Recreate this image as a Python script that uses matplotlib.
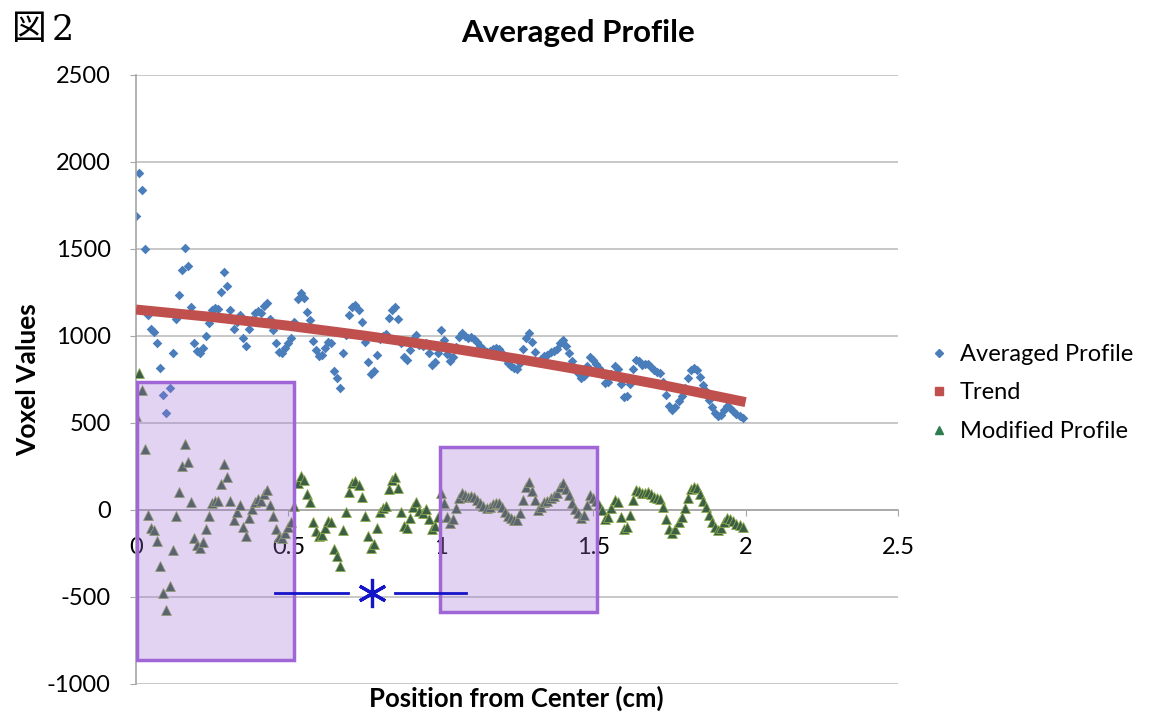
import numpy as np
import matplotlib.pyplot as plt
from matplotlib.lines import Line2D
from matplotlib.patches import Rectangle

# sampling step along the profile (cm)
step = 0.01

averaged_profile = [
    1690, 1935, 1840, 1500, 1120, 1040, 1025, 960, 816, 660,
    560, 700, 900, 1098, 1235, 1380, 1505, 1400, 1167, 960,
    915, 900, 930, 1000, 1075, 1150, 1160, 1155, 1250, 1368,
    1290, 1150, 1040, 1080, 1120, 990, 940, 1040, 1090, 1130,
    1145, 1130, 1170, 1190, 1100, 1034, 960, 910, 900, 930,
    960, 990, 1080, 1210, 1245, 1220, 1140, 1090, 970, 920,
    885, 890, 930, 966, 960, 800, 760, 700, 902, 1005,
    1120, 1165, 1178, 1150, 1080, 966, 850, 780, 800, 890,
    980, 1000, 1010, 1103, 1150, 1167, 1100, 960, 880, 862,
    920, 980, 1005, 950, 940, 960, 900, 835, 850, 902,
    1034, 976, 894, 856, 878, 936, 993, 1020, 1002, 990,
    992, 984, 966, 944, 926, 908, 915, 927, 930, 927,
    904, 871, 843, 830, 817, 812, 846, 923, 990, 1017,
    964, 906, 848, 865, 887, 889, 906, 913, 925, 957,
    979, 941, 903, 854, 816, 788, 760, 772, 829, 881,
    863, 840, 817, 783, 730, 737, 783, 825, 812, 724,
    650, 657, 724, 810, 862, 854, 835, 837, 839, 820,
    802, 794, 785, 737, 663, 600, 576, 593, 629, 656,
    702, 759, 805, 817, 803, 765, 721, 683, 634, 591,
    557, 538, 545, 576, 597, 589, 570, 551, 543, 529,
]

modified_profile = [
    538, 785, 691, 353, -26, -104, -117, -181, -323, -477,
    -575, -434, -232, -33, 106, 253, 380, 277, 46, -160,
    -203, -216, -184, -112, -35, 41, 53, 50, 147, 267,
    191, 53, -55, -13, 29, -100, -148, -46, 6, 48,
    65, 52, 94, 116, 29, -35, -107, -155, -163, -131,
    -99, -67, 25, 158, 195, 172, 94, 46, -71, -119,
    -152, -145, -102, -64, -68, -226, -263, -321, -117, -11,
    106, 153, 169, 143, 75, -36, -150, -217, -195, -102,
    -10, 12, 25, 120, 170, 189, 125, -13, -90, -106,
    -45, 17, 45, -7, -15, 8, -50, -112, -94, -40,
    95, 40, -40, -75, -50, 10, 70, 100, 85, 75,
    80, 75, 60, 40, 25, 10, 20, 35, 40, 40,
    20, -10, -35, -45, -55, -57, -20, 60, 130, 160,
    110, 55, 0, 20, 45, 50, 70, 80, 95, 130,
    155, 120, 85, 40, 5, -20, -45, -30, 30, 85,
    70, 50, 30, 0, -50, -40, 10, 55, 45, -40,
    -110, -100, -30, 60, 115, 110, 95, 100, 105, 90,
    75, 70, 65, 20, -50, -110, -130, -110, -70, -40,
    10, 70, 120, 135, 125, 90, 50, 15, -30, -70,
    -100, -115, -105, -70, -45, -50, -65, -80, -85, -95,
]

trend_x = [0, 0.25, 0.5, 0.75, 1.0, 1.25, 1.5, 1.75, 2.0]
trend_y = [1152, 1109, 1059, 1002, 939, 869, 793, 710, 620]

position = np.arange(len(averaged_profile)) * step

blue = '#4A7EBB'
red = '#C0504D'
green_face = '#3B5E46'
green_edge = '#8DAA4A'

plt.rcParams['font.family'] = ['Lato', 'DejaVu Sans']
plt.rcParams['axes.unicode_minus'] = False

fig = plt.figure(figsize=(11.55, 7.14), dpi=100)
ax = fig.add_axes([0.11775, 0.04202, 0.65974, 0.85294])

ax.scatter(position, averaged_profile, marker='D', s=24, color=blue,
           linewidths=0, zorder=2)
ax.plot(trend_x, trend_y, color=red, lw=7.2, solid_capstyle='butt', zorder=3)
ax.scatter(position, modified_profile, marker='^', s=50, facecolor=green_face,
           edgecolor=green_edge, linewidths=0.6, zorder=4)

# highlighted regions
box_kw = dict(facecolor=(0.63, 0.44, 0.85, 0.3), edgecolor='#A066D8', lw=2.5, zorder=5)
ax.add_patch(Rectangle((0.003, -862), 0.515, 1598, **box_kw))
ax.add_patch(Rectangle((0.997, -586), 0.515, 948, **box_kw))

# significance marker between the two regions
ann = '#1414C8'
ax.plot([0.456, 0.696], [-477, -477], color=ann, lw=2, zorder=6)
ax.plot([0.850, 1.083], [-477, -477], color=ann, lw=2, zorder=6)
ax.plot([0.774], [-477], marker=(6, 2, 0), ms=21, mew=2.3, color=ann, zorder=6)

ax.set_xlim(0, 2.5)
ax.set_ylim(-1000, 2500)
ax.set_xticks([0, 0.5, 1, 1.5, 2, 2.5])
ax.set_xticklabels(['0', '0.5', '1', '1.5', '2', '2.5'])
ax.set_yticks(range(-1000, 2501, 500))

ax.spines['top'].set_visible(False)
ax.spines['right'].set_visible(False)
ax.spines['bottom'].set_position(('data', 0))
for s in ('bottom', 'left'):
    ax.spines[s].set_color('#A6A6A6')
    ax.spines[s].set_linewidth(1.2)

ax.yaxis.grid(True, color='#BFBFBF', lw=1.2)
ax.set_axisbelow(True)
ax.tick_params(axis='x', length=4.3, color='#A6A6A6', pad=15, labelsize=17)
ax.tick_params(axis='y', length=4.3, color='#A6A6A6', pad=14, labelsize=17)

fig.text(0.5004, 0.9538, 'Averaged Profile', ha='center', va='center',
         fontsize=22.5, fontweight='bold')
fig.text(0.0242, 0.4678, 'Voxel Values', ha='center', va='center',
         rotation=90, fontsize=19, fontweight='bold')
fig.text(0.4468, 0.004, 'Position from Center (cm)', ha='center', va='bottom',
         fontsize=18.5, fontweight='bold')

fig.text(0.010, 0.958, '図', ha='left', va='center', fontsize=25,
         family=['Noto Sans CJK JP', 'DejaVu Sans'])
fig.text(0.045, 0.958, '2', ha='left', va='center', fontsize=25,
         family='DejaVu Serif')

handles = [
    Line2D([], [], ls='none', marker='D', ms=4.5, color=blue),
    Line2D([], [], ls='none', marker='s', ms=6, color=red),
    Line2D([], [], ls='none', marker='^', ms=6, color='#2E7D4F'),
]
fig.legend(handles, ['Averaged Profile', 'Trend', 'Modified Profile'],
           loc='center left', bbox_to_anchor=(0.786, 0.4496), frameon=False,
           fontsize=17, handlelength=0.8, handletextpad=0.5, labelspacing=0.75)

fig.savefig('out.png', dpi=100)
